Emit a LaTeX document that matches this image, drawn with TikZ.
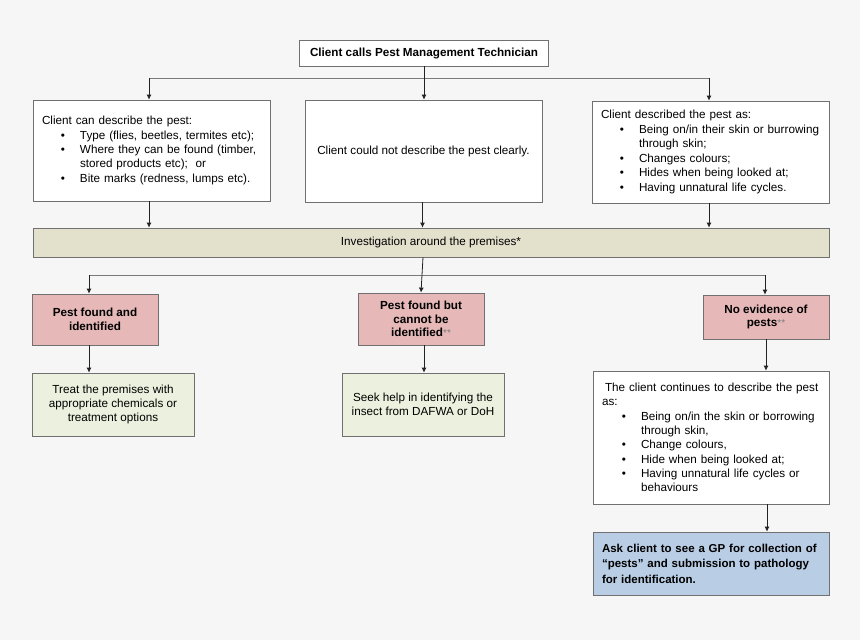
\documentclass[tikz,border=0pt]{standalone}
\usepackage{fontspec}
\setmainfont{Liberation Sans}
\usetikzlibrary{arrows.meta}
\definecolor{bgcol}{HTML}{F6F6F6}
\definecolor{bordercol}{HTML}{707070}
\definecolor{pinkcol}{HTML}{E6B9B8}
\definecolor{greencol}{HTML}{EBF1DE}
\definecolor{tancol}{HTML}{E3E0CC}
\definecolor{bluecol}{HTML}{B9CDE5}
\definecolor{linecol}{HTML}{222222}
\definecolor{hlinecol}{HTML}{7A7A7A}
\definecolor{astcol}{HTML}{7C7C7C}
\newcommand{\pitem}[2][38pt]{\par{\leftskip=#1\noindent\llap{\textbullet\hspace{15pt}}#2\par}}
\newcommand{\dblast}{{\fontsize{10}{10}\selectfont\mdseries\color{astcol}\raisebox{0.5pt}{**}}}
\begin{document}
\begin{tikzpicture}[x=1pt,y=-1pt,
  basebox/.style={draw=bordercol, line width=0.8pt, rectangle, inner ysep=0pt,
    font=\fontsize{11.7}{14.3}\selectfont},
  whitebox/.style={basebox, fill=white},
  leftbox/.style={whitebox, align=left, inner xsep=9pt},
  pinkbox/.style={basebox, fill=pinkcol, align=center,
    font=\fontsize{11.7}{13.5}\selectfont\bfseries},
  greenbox/.style={basebox, fill=greencol, align=center},
  conn/.style={draw=linecol, line width=0.8pt},
  hconn/.style={draw=hlinecol, line width=0.8pt},
  arr/.style={conn, -{Latex[length=5pt,width=5pt]}}
]
\fill[bgcol] (0,0) rectangle (860,640);
\useasboundingbox (0,0) rectangle (860,640);

% top
\node[whitebox, minimum width=249pt, minimum height=26pt, inner xsep=0pt,
  font=\fontsize{11.7}{14.3}\selectfont\bfseries] (top) at (424,53)
  {Client calls Pest Management Technician};

% level 1
\node[leftbox, text width=219pt, minimum height=101pt] (A) at (151.5,150.5)
 {Client can describe the pest:
  \pitem{Type (flies, beetles, termites etc);}
  \pitem{Where they can be found (timber,\newline stored products etc);\ \ or}
  \pitem{Bite marks (redness, lumps etc).}};
\node[whitebox, minimum width=237pt, minimum height=102pt] (B) at (423.5,151)
 {Client could not describe the pest clearly.};
\node[leftbox, text width=219pt, minimum height=102pt,
  font=\fontsize{11.7}{14.5}\selectfont] (C) at (710.5,152)
 {Client described the pest as:
  \pitem{Being on/in their skin or burrowing\newline through skin;}
  \pitem{Changes colours;}
  \pitem{Hides when being looked at;}
  \pitem{Having unnatural life cycles.}};

% bar
\node[basebox, fill=tancol, minimum width=796pt, minimum height=29pt] (bar) at (431,242.5)
 {Investigation around the premises*};

% level 2
\node[pinkbox, minimum width=126pt, minimum height=51pt] (P1) at (95,319.5)
 {Pest found and\\identified};
\node[pinkbox, minimum width=126pt, minimum height=52pt] (P2) at (421,319)
 {Pest found but\\cannot be\\identified\dblast};
\node[pinkbox, minimum width=126pt, minimum height=44pt] (P3) at (766,317)
 {No evidence of\\pests\dblast};

% level 3
\node[greenbox, minimum width=162pt, minimum height=63pt] (G1) at (113,404.5)
 {Treat the premises with\\appropriate chemicals or\\treatment options};
\node[greenbox, minimum width=162pt, minimum height=63pt] (G2) at (423,404.5)
 {Seek help in identifying the\\insect from DAFWA or DoH};
\node[leftbox, text width=218pt, minimum height=133pt] (W) at (711,437.5)
 {\mbox{\hspace*{3pt}The client continues to describe the pest}\newline as:
  \pitem[39pt]{Being on/in the skin or borrowing\newline through skin,}
  \pitem[39pt]{Change colours,}
  \pitem[39pt]{Hide when being looked at;}
  \pitem[39pt]{Having unnatural life cycles or\newline behaviours}};
\node[basebox, fill=bluecol, align=left, inner xsep=9pt, text width=218pt,
  minimum height=63pt, font=\fontsize{11.5}{15.5}\selectfont\bfseries] (BL) at (711,563.5)
 {\mbox{Ask client to see a GP for collection of}\newline
  \mbox{“pests” and submission to pathology}\newline
  \mbox{for identification.}};

% connectors top -> level 1
\coordinate (j1L) at (149,78);
\coordinate (j1R) at (709,78);
\draw[hconn] (j1L) -- (j1R);
\draw[arr] (j1L) -- (j1L|-A.north);
\draw[arr] (top.south) -- (top.south|-B.north);
\draw[arr] (j1R) -- (j1R|-C.north);

% level 1 -> bar
\draw[arr] (j1L|-A.south) -- (j1L|-bar.north);
\draw[arr] ([xshift=-1pt]B.south) -- ([xshift=-1pt]B.south|-bar.north);
\draw[arr] (j1R|-C.south) -- (j1R|-bar.north);

% bar -> level 2
\coordinate (j2L) at (89,275);
\coordinate (j2R) at (765,275);
\draw[hconn] (j2L) -- (j2R);
\draw[arr] ([xshift=-8pt]bar.south) -- (P2.north);
\draw[arr] (j2L) -- (j2L|-P1.north);
\draw[arr] (j2R) -- (j2R|-P3.north);

% level 2 -> level 3
\coordinate (k2) at (424,0);
\draw[arr] (j2L|-P1.south) -- (j2L|-G1.north);
\draw[arr] (k2|-P2.south) -- (k2|-G2.north);
\draw[arr] (P3.south) -- (P3.south|-W.north);
\draw[arr] ([xshift=1pt]P3.south|-W.south) -- ([xshift=1pt]P3.south|-BL.north);
\end{tikzpicture}
\end{document}
